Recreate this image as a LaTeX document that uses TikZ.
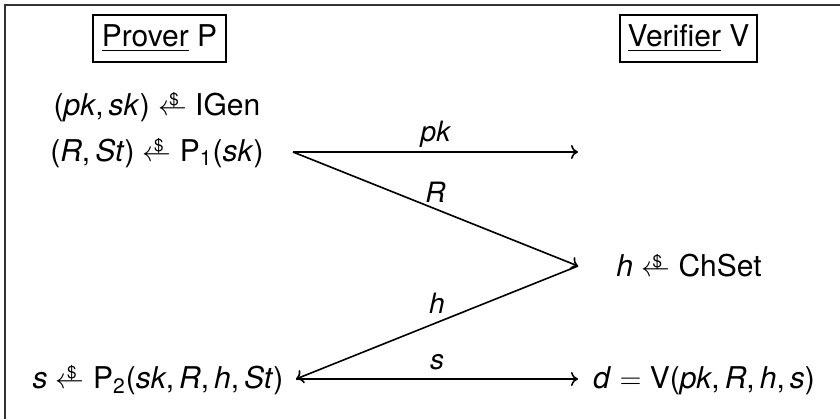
\documentclass[tikz,border=0pt]{standalone}
\usepackage{amsmath}
\usepackage{fontspec}
\setmainfont{TeX Gyre Heros}
\usetikzlibrary{arrows.meta}
\newcommand{\vr}[1]{\textit{#1}}
\newcommand{\sampl}{\mbox{\ooalign{$\leftarrow$\cr\hidewidth\kern0.1em\raisebox{4.6pt}{\fontsize{8.5}{9}\selectfont\$}\hidewidth\cr}}}
\begin{document}
\begin{tikzpicture}[x=0.5pt,y=-0.5pt,
  every node/.style={font=\fontsize{15}{18}\selectfont},
  msg/.style={line width=0.8pt,-{To[length=3.5pt,width=7pt]}},
  party/.style={draw,line width=0.6pt,minimum height=23.5pt,inner sep=0pt},
  lbl/.style={font=\fontsize{14}{16}\selectfont\itshape,inner sep=0pt,midway}]
\useasboundingbox (0,0) rectangle (840,418);
\clip (0,0) rectangle (840,418);
\draw[line width=0.8pt, black!80] (5,5) rectangle (900,480);

\node[party, minimum width=66.5pt] (prover) at (159.5,38.5) {\underline{Prover} P};
\node[party, minimum width=68.5pt] (verifier) at (688.5,38.5) {\underline{Verifier} V};

\node (gen) at (157,107) {(\vr{pk},\,\vr{sk}) \sampl{} IGen};
\node (com) at (157,153) {(\vr{R},\,\vr{St}) \sampl{} P\textsubscript{1}(\vr{sk})};
\node (ch) at (689,266) {\vr{h} \sampl{} ChSet};
\node (resp) at (158,380) {\vr{s} \sampl{} P\textsubscript{2}(\vr{sk},\,\vr{R},\,\vr{h},\,\vr{St})};
\node (dec) at (704,381) {\vr{d} $=$ V(\vr{pk},\,\vr{R},\,\vr{h},\,\vr{s})};

\coordinate (a) at (293,152);
\coordinate (b) at (578,152);
\coordinate (c) at (578,266);
\coordinate (d) at (296,379);
\coordinate (e) at (578,379);

\draw[msg] (a) -- node[lbl, yshift=9pt] {pk} (b);
\draw[msg] (a) -- node[lbl, yshift=8.5pt] {R} (c);
\draw[msg] (c) -- node[lbl, yshift=9.75pt] {h} (d);
\draw[msg] (d) -- node[lbl, yshift=8.5pt] {s} (e);
\end{tikzpicture}
\end{document}
